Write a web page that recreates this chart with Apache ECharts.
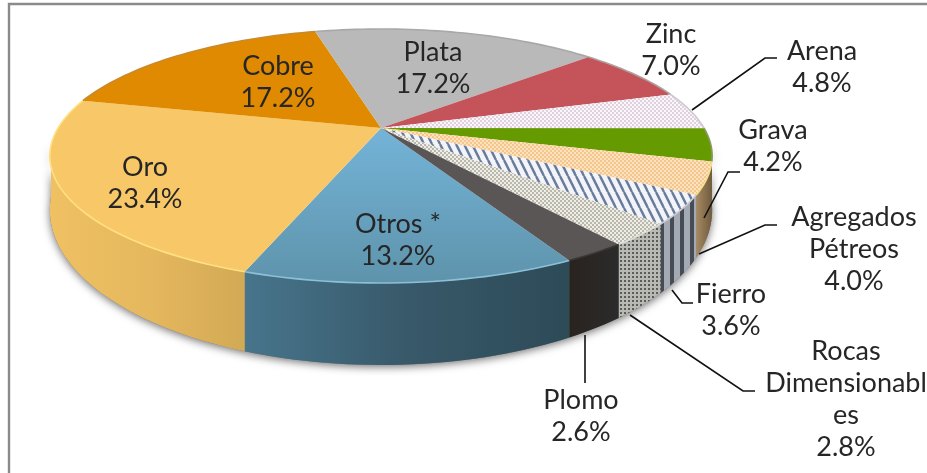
<!DOCTYPE html>
<html><head><meta charset="utf-8">
<style>html,body{margin:0;padding:0;background:#fff}#c{width:927px;height:473px}</style>
<script src="https://cdn.jsdelivr.net/npm/echarts@6/dist/echarts.min.js"></script>
</head><body><div id="c"></div>
<script>
// ---- data ----
var categories = ['Otros *','Oro','Cobre','Plata','Zinc','Arena','Grava','Agregados Pétreos','Fierro','Rocas Dimensionables','Plomo'];
var values = [13.2,23.4,17.2,17.2,7.0,4.8,4.2,4.0,3.6,2.8,2.6];
var valueLabels = ['13.2%','23.4%','17.2%','17.2%','7.0%','4.8%','4.2%','4.0%','3.6%','2.8%','2.6%'];
var labelLines = [['Otros *'],['Oro'],['Cobre'],['Plata'],['Zinc'],['Arena'],['Grava'],['Agregados','Pétreos'],['Fierro'],['Rocas','Dimensionabl','es'],['Plomo']];
// ---- layout ----
var labelCenter = [[398,224],[145,167],[278,66],[433,52],[671,34],[822,51],[773,130],[854,217],[731,294],[846,351],[581,400]];
var leaders = [null,null,null,null,null,
 [[692,110],[765,58],[777,58]],
 [[704,218],[728,172],[740,172]],
 [[699,254],[765,225],[777,225]],
 [[672,290],[682,303],[693,303]],
 [[630,315],[743,391],[755,391]],
 [[585,335],[585,383]]];
var START = 62, LINE_H = 32, FONT = 'Lato, "Open Sans", sans-serif', FS = 27;
var CX = 381, R = 323, PC = -0.2205;
var TOP_A = 92.6, TOP_B = 128, BOT_A = 108.6, BOT_B = 175.9;

function tile(w,h,draw){var c=document.createElement('canvas');c.width=w;c.height=h;draw(c.getContext('2d'));return {image:c,repeat:'repeat'};}
function dots(bg,fg,p,r){return tile(p,p,function(g){g.fillStyle=bg;g.fillRect(0,0,p,p);g.fillStyle=fg;
  g.beginPath();g.arc(p/4,p/4,r,0,7);g.fill();g.beginPath();g.arc(3*p/4,3*p/4,r,0,7);g.fill();});}
function steep(bg,fg,p,lw){return tile(p,2*p,function(g){g.fillStyle=bg;g.fillRect(0,0,p,2*p);g.strokeStyle=fg;g.lineWidth=lw;
  [-p,0,p].forEach(function(o){g.beginPath();g.moveTo(o,0);g.lineTo(o+p,2*p);g.stroke();});});}
function vert(bg,fg,p,lw){return tile(p,p,function(g){g.fillStyle=bg;g.fillRect(0,0,p,p);g.fillStyle=fg;g.fillRect(0,0,lw,p);});}
function grid(bg,fg,p,s){return tile(p,p,function(g){g.fillStyle=bg;g.fillRect(0,0,p,p);g.fillStyle=fg;g.fillRect(0,0,s,s);});}
function hg(a,b,c){return {type:'linear',x:0,y:0,x2:1,y2:0,colorStops:[{offset:0,color:a},{offset:.5,color:b||a},{offset:1,color:c||b||a}]};}
function vg(a,b){return {type:'linear',x:0,y:0,x2:0,y2:1,colorStops:[{offset:0,color:a},{offset:1,color:b}]};}

var topFill = [
  vg('#74b4d8','#5e93ab'), '#f8c767', '#df8a00', '#b9b9b9', '#c4535a',
  dots('#fbf6fa','#d2bfd0',4,.9), '#659a00', dots('#fde3bd','#f0bb7c',4,1),
  steep('#f2f4f8','#6a7c9e',8,2.4), dots('#efeee6','#a8a598',4,1), '#5a5655'
];
var sideFill = [
  hg('#47758c','#38596a','#2d4a57'), hg('#efc163','#e6b85e','#d2a955'), '#b06f00', '#8f8f8f', '#8a3a3f',
  '#b0aab0', '#4f7400', hg('#a58a62','#8d7250','#6f5a40'),
  vert('#a3aab3','#474c54',10,4), grid('#b9b9b3','#5c5c5a',4,2), hg('#29231f','#2a2725','#2b2b2b')
];
var rimColor = ['#8cc0d8','#ffe083','#c98a2c','#a8a8a8','#b0a0a0','#cfc8cf','#8a9a60','#f3e08a','#c9ccd2','#dcdcd2','#3a3634'];

function project(deg, a, b){
  var t = deg*Math.PI/180, X = Math.cos(t), Y = Math.sin(t), w = 1+PC*Y;
  return [CX + R*X/w, (a*Y+b)/w];
}
var total = values.reduce(function(s,v){return s+v;},0);
function range(i){
  var s = START; for(var k=0;k<i;k++) s += values[k]/total*360;
  return [s, s+values[i]/total*360];
}
function arc(a0,a1,A,B){var n=Math.max(2,Math.ceil(Math.abs(a1-a0)/1.5)),p=[];
  for(var k=0;k<=n;k++)p.push(project(a0+(a1-a0)*k/n,A,B));return p;}
// the part of a slice's arc that faces the viewer (front of the drum)
function frontPart(r){
  var lo=8, hi=172, a0=r[0], a1=r[1], shift=Math.floor(a0/360)*360;
  a0-=shift;a1-=shift;
  var s=Math.max(a0,lo), e=Math.min(a1,hi);
  if(e<=s){ s=Math.max(a0,lo+360); e=Math.min(a1,hi+360); }
  return e>s?[s,e]:null;
}

var chart = echarts.init(document.getElementById('c'),null,{renderer:'canvas'});
chart.setOption({
  animation:false,
  backgroundColor:'#fff',
  graphic:{elements:[{type:'polyline',z:0,silent:true,shape:{points:[[9,473],[9,4],[927,4]]},style:{stroke:'#8a8a8a',lineWidth:2.4,fill:null}}]},
  series:[
    {type:'custom',name:'base',coordinateSystem:'none',silent:true,z:1,data:[total],
     renderItem:function(){
       var pts=arc(8,172,BOT_A,BOT_B).concat(arc(172,8,TOP_A,TOP_B));
       return {type:'polygon',shape:{points:pts},style:{fill:'#777',shadowBlur:9,shadowColor:'rgba(0,0,0,.55)',shadowOffsetY:2}};
     }},
    {type:'custom',name:'side',coordinateSystem:'none',silent:true,z:2,data:values,
     renderItem:function(p){
       var f=frontPart(range(p.dataIndex));
       if(!f) return {type:'group',children:[]};
       var pts=arc(f[0],f[1],TOP_A,TOP_B).concat(arc(f[1],f[0],BOT_A,BOT_B));
       return {type:'polygon',shape:{points:pts},style:{fill:sideFill[p.dataIndex]}};
     }},
    {type:'custom',name:'top',coordinateSystem:'none',silent:true,z:3,data:values,
     renderItem:function(p){
       var r=range(p.dataIndex), rim=arc(r[0],r[1],TOP_A,TOP_B);
       var pts=[[CX,TOP_B]].concat(rim);
       return {type:'group',children:[
         {type:'polygon',shape:{points:pts},style:{fill:topFill[p.dataIndex]}},
         {type:'polyline',shape:{points:rim},style:{fill:null,stroke:rimColor[p.dataIndex],lineWidth:1.6}}
       ]};
     }},
    {type:'custom',name:'labels',coordinateSystem:'none',silent:true,z:4,data:categories,
     renderItem:function(p){
       var i=p.dataIndex, kids=[], lines=labelLines[i].concat([valueLabels[i]]);
       lines.forEach(function(t,k){
         kids.push({type:'text',style:{text:t,x:labelCenter[i][0],y:labelCenter[i][1]+k*LINE_H,
           align:'center',verticalAlign:'middle',font:FS+'px '+FONT,fill:'#262626'}});
       });
       if(leaders[i]) kids.push({type:'polyline',shape:{points:leaders[i]},style:{fill:null,stroke:'#111',lineWidth:1.6}});
       return {type:'group',children:kids};
     }}
  ]
});
</script></body></html>
